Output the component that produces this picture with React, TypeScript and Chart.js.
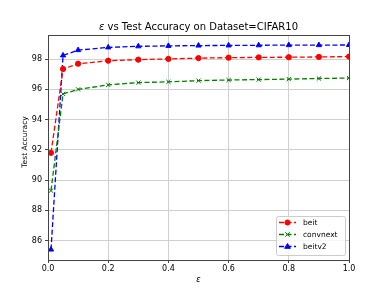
import React, { useEffect, useRef } from "react";
import { Chart, registerables } from "chart.js";

Chart.register(...registerables);

const epsilons = [0.01, 0.05, 0.1, 0.2, 0.3, 0.4, 0.5, 0.6, 0.7, 0.8, 0.9, 1.0];
const beit = [91.8, 97.35, 97.7, 97.9, 97.97, 98.02, 98.07, 98.1, 98.12, 98.13, 98.15, 98.17];
const convnext = [89.3, 95.7, 96.0, 96.3, 96.45, 96.5, 96.58, 96.62, 96.65, 96.68, 96.72, 96.75];
const beitv2 = [85.4, 98.25, 98.6, 98.78, 98.85, 98.88, 98.9, 98.91, 98.92, 98.93, 98.93, 98.94];
const xTicks = [0, 0.2, 0.4, 0.6, 0.8, 1.0];
const yTicks = [86, 88, 90, 92, 94, 96, 98];
const seriesNames = ["beit", "convnext", "beitv2"];
const titleRest = " vs Test Accuracy on Dataset=CIFAR10";
const yLabel = "Test Accuracy";
const xLabel = "ε";

const FONT = "'DejaVu Sans', sans-serif";

const colors = ["#ff0000", "#008000", "#0000ff"];
const markers = ["circle", "crossRot", "triangle"];
const radii = [2.6, 3, 3];

function drawMarker(ctx: CanvasRenderingContext2D, style: string, r: number, x: number, y: number) {
  ctx.beginPath();
  if (style === "circle") {
    ctx.arc(x, y, r, 0, Math.PI * 2);
    ctx.fill();
    ctx.stroke();
  } else if (style === "triangle") {
    ctx.moveTo(x, y - r);
    ctx.lineTo(x + r * 0.95, y + r * 0.6);
    ctx.lineTo(x - r * 0.95, y + r * 0.6);
    ctx.closePath();
    ctx.fill();
    ctx.stroke();
  } else {
    const d = r * 0.75;
    ctx.moveTo(x - d, y - d);
    ctx.lineTo(x + d, y + d);
    ctx.moveTo(x + d, y - d);
    ctx.lineTo(x - d, y + d);
    ctx.stroke();
  }
}

const decorPlugin = {
  id: "decor",
  afterDraw(chart: any) {
    const ctx = chart.ctx as CanvasRenderingContext2D;
    const a = chart.chartArea;
    ctx.save();
    // frame
    ctx.strokeStyle = "#444";
    ctx.lineWidth = 1;
    ctx.strokeRect(Math.round(a.left) + 0.5, Math.round(a.top) + 0.5, Math.round(a.right - a.left), Math.round(a.bottom - a.top));

    // title
    ctx.fillStyle = "#000";
    ctx.textBaseline = "alphabetic";
    const cx = (a.left + a.right) / 2;
    ctx.font = `italic 10px ${FONT}`;
    const w1 = ctx.measureText("ε").width;
    ctx.font = `10px ${FONT}`;
    const w2 = ctx.measureText(titleRest).width;
    const start = cx - (w1 + w2) / 2;
    ctx.font = `italic 10px ${FONT}`;
    ctx.textAlign = "left";
    ctx.fillText("ε", start, 30);
    ctx.font = `10px ${FONT}`;
    ctx.fillText(titleRest, start + w1, 30);

    // x label
    ctx.font = `italic 8px ${FONT}`;
    ctx.textAlign = "center";
    ctx.textBaseline = "middle";
    ctx.fillText(xLabel, cx, 279.5);

    // y label
    ctx.save();
    ctx.translate(25, 142);
    ctx.rotate(-Math.PI / 2);
    ctx.font = `7.5px ${FONT}`;
    ctx.fillText(yLabel, 0, 0);
    ctx.restore();

    // legend
    const lx = 276, ly = 216, lw = 69, lh = 39;
    ctx.fillStyle = "rgba(255,255,255,0.8)";
    ctx.strokeStyle = "#cccccc";
    ctx.lineWidth = 1;
    ctx.beginPath();
    (ctx as any).roundRect(lx + 0.5, ly + 0.5, lw, lh, 2);
    ctx.fill();
    ctx.stroke();
    seriesNames.forEach((name, i) => {
      const y = 222.5 + i * 12;
      ctx.strokeStyle = colors[i];
      ctx.lineWidth = 1.3;
      ctx.setLineDash([5, 2.5]);
      ctx.beginPath();
      ctx.moveTo(279, y);
      ctx.lineTo(296, y);
      ctx.stroke();
      ctx.setLineDash([]);
      ctx.fillStyle = colors[i];
      ctx.strokeStyle = colors[i];
      ctx.lineWidth = 1;
      drawMarker(ctx, markers[i], radii[i], 287.5, y);
      ctx.fillStyle = "#000";
      ctx.font = `7.5px ${FONT}`;
      ctx.textAlign = "left";
      ctx.textBaseline = "middle";
      ctx.fillText(name, 303, y + 0.5);
    });
    ctx.restore();
  },
};

export default function App() {
  const ref = useRef<HTMLCanvasElement>(null);
  useEffect(() => {
    if (!ref.current) return;
    const datasets = [beit, convnext, beitv2].map((vals, i) => ({
      label: seriesNames[i],
      data: epsilons.map((x, j) => ({ x, y: vals[j] })),
      borderColor: colors[i],
      backgroundColor: colors[i],
      borderWidth: 1.3,
      borderDash: [5, 2.5],
      pointStyle: markers[i] as any,
      pointRadius: radii[i],
      pointBorderWidth: 1,
      pointBorderColor: colors[i],
      pointBackgroundColor: colors[i],
      tension: 0,
    }));
    const chart = new Chart(ref.current, {
      type: "line",
      data: { datasets },
      plugins: [decorPlugin],
      options: {
        responsive: false,
        animation: false,
        layout: { padding: { top: 35, right: 39, left: 0, bottom: 0 } },
        plugins: { legend: { display: false }, title: { display: false }, tooltip: { enabled: false } },
        scales: {
          x: {
            type: "linear",
            min: 0,
            max: 1,
            afterFit: (s: any) => { s.height = 31; },
            afterBuildTicks: (s: any) => { s.ticks = xTicks.map((v) => ({ value: v })); },
            ticks: {
              callback: (v: any) => Number(v).toFixed(1),
              font: { family: FONT, size: 8 },
              color: "#000",
              padding: 1,
              maxRotation: 0,
            },
            grid: { color: "#d0d0d0", lineWidth: 1, tickLength: 3, tickColor: "#444" },
            border: { display: false },
          },
          y: {
            type: "linear",
            min: 84.71,
            max: 99.6,
            afterFit: (s: any) => { s.width = 48; },
            afterBuildTicks: (s: any) => { s.ticks = yTicks.map((v) => ({ value: v })); },
            ticks: {
              callback: (v: any) => String(v),
              font: { family: FONT, size: 8 },
              color: "#000",
              padding: 3,
            },
            grid: { color: "#d0d0d0", lineWidth: 1, tickLength: 3, tickColor: "#444" },
            border: { display: false },
          },
        },
      },
    });
    return () => chart.destroy();
  }, []);
  return (
    <div style={{ position: "fixed", left: 0, top: 0, width: 388, height: 291, background: "#fff" }}>
      <canvas ref={ref} width={388} height={291} style={{ width: 388, height: 291 }} />
    </div>
  );
}
